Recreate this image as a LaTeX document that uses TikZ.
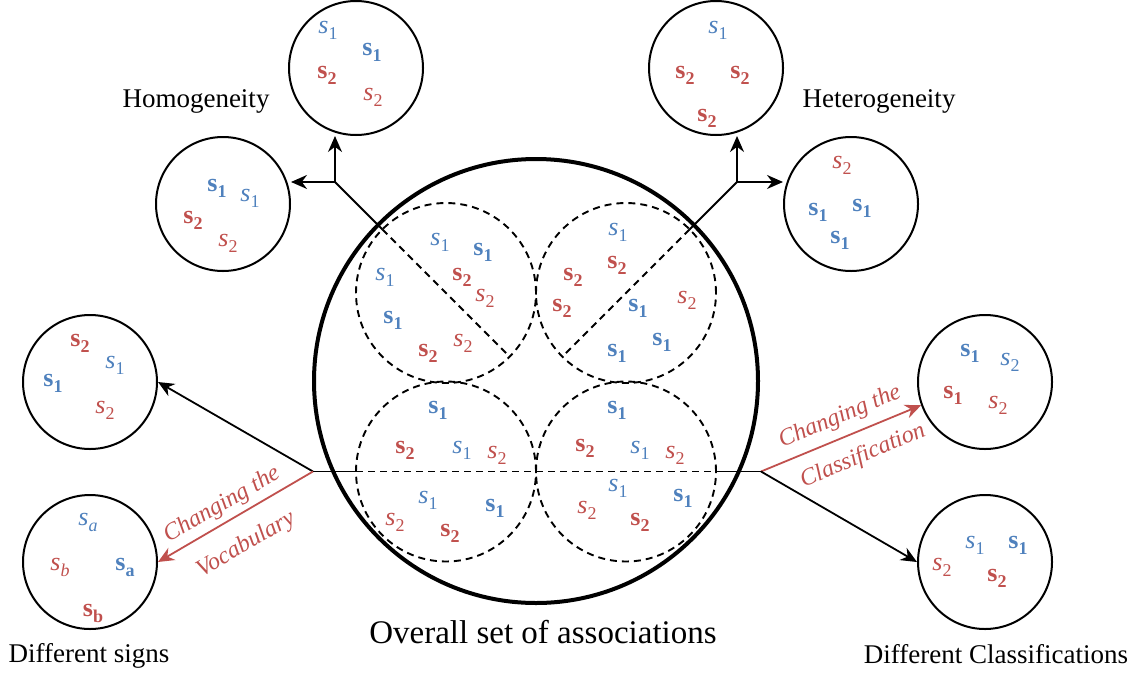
\documentclass[tikz,border=0pt]{standalone}
\usepackage{fontspec}
\setmainfont{Liberation Serif}
\usetikzlibrary{arrows.meta,calc}
\definecolor{sblue}{RGB}{79,129,189}
\definecolor{sred}{RGB}{192,80,77}
% italic sign s_x and bold sign s_x
\newcommand\sI[1]{\textit{s}\kern0.3pt\raisebox{-6pt}{\fontsize{18}{18}\selectfont #1}}
\newcommand\sB[1]{\textbf{s\raisebox{-6pt}{\fontsize{18}{18}\selectfont #1}}}

\begin{document}
\begin{tikzpicture}[x=1pt,y=-1pt,
  sym/.style={inner sep=0pt,font=\fontsize{26}{26}\selectfont},
  bl/.style={sym,text=sblue},
  rd/.style={sym,text=sred},
  grp/.style={circle,draw,line width=2pt,minimum size=134pt,inner sep=0pt},
  part/.style={draw,dashed,line width=1.9pt,dash pattern=on 7pt off 5pt},
  link/.style={line width=1.8pt},
  arr/.style={link,-{Stealth[length=16pt,width=14pt]}},
  caption/.style={anchor=base,inner sep=0pt,font=\fontsize{27}{27}\selectfont},
  note/.style={text=sred,inner sep=0pt,font=\itshape\fontsize{24}{24}\selectfont}]
\useasboundingbox (0,0) rectangle (1134,675);

% overall set and its four partitions
\coordinate (C) at (536,381);
\draw[line width=4pt] (C) circle[radius=222pt];
\coordinate (TL) at (446,293);
\coordinate (TR) at (626,293);
\coordinate (BL) at (446,471.5);
\coordinate (BR) at (626,471.5);
\foreach \c in {TL,TR,BL,BR} \draw[part] (\c) circle[radius=90pt];

% surrounding groups
\node[grp] (hom1) at (356,68) {};
\node[grp] (hom2) at (223,204) {};
\node[grp] (het1) at (716,68) {};
\node[grp] (het2) at (851,204) {};
\node[grp] (sg1) at (90,382) {};
\node[grp] (sg2) at (90,562) {};
\node[grp] (cl1) at (985,382) {};
\node[grp] (cl2) at (985,562) {};

% branch points
\coordinate (J1) at ($(TL)+(135:157pt)$);
\coordinate (J2) at ($(TR)+(45:157pt)$);
\coordinate (Jl) at (313,471.5);
\coordinate (Jr) at (761,471.5);

% splitting lines
\draw[link] (J1) -- ($(TL)+(135:90pt)$);
\draw[part] ($(TL)+(135:90pt)$) -- ($(TL)+(-45:90pt)$);
\draw[link] (J2) -- ($(TR)+(45:90pt)$);
\draw[part] ($(TR)+(45:90pt)$) -- ($(TR)+(225:90pt)$);
\draw[link] (Jl) -- ($(BL)+(180:90pt)$);
\draw[part] ($(BL)+(180:90pt)$) -- ($(BR)+(0:90pt)$);
\draw[link] ($(BR)+(0:90pt)$) -- (Jr);

% arrows
\draw[arr] (J1) -- (J1 |- hom1.south);
\draw[arr] (J1) -- (J1 -| hom2.east);
\draw[arr] (J2) -- (J2 |- het1.south);
\draw[arr] (J2) -- (J2 -| het2.west);
\draw[arr] (Jl) -- (sg1.east);
\draw[arr,sred] (Jl) -- (sg2.east);
\draw[arr,sred] (Jr) -- (cl1.200);
\draw[arr] (Jr) -- (cl2.west);

% arrow notes
\node[note,rotate=30] (v1) at (222,505) {Changing the};
\node[note,rotate=30] (v2) at (246,545) {Vocabulary};
\node[note,rotate=23] (c1) at (840,417) {Changing the};
\node[note,rotate=23] (c2) at (863,456) {Classification};

% captions
\node[caption] (tHom) at (196,107) {Homogeneity};
\node[caption] (tHet) at (879,107) {Heterogeneity};
\node[caption] (tSig) at (89,662) {Different signs};
\node[caption] (tCla) at (996,663) {Different Classifications};
\node[caption,font=\fontsize{33}{33}\selectfont] (tAll) at (543,643) {Overall set of associations};

% homogeneity groups
\node[bl] at (328,30) {\sI{1}};
\node[bl] at (372,52) {\sB{1}};
\node[rd] at (327,75) {\sB{2}};
\node[rd] at (373,97) {\sI{2}};
\node[bl] at (217,188) {\sB{1}};
\node[bl] at (250,198) {\sI{1}};
\node[rd] at (193,220) {\sB{2}};
\node[rd] at (228,243) {\sI{2}};

% heterogeneity groups
\node[bl] at (718,30) {\sI{1}};
\node[rd] at (685,75) {\sB{2}};
\node[rd] at (740,75) {\sB{2}};
\node[rd] at (707,118) {\sB{2}};
\node[rd] at (842,165) {\sI{2}};
\node[bl] at (818,212) {\sB{1}};
\node[bl] at (862,208) {\sB{1}};
\node[bl] at (840,240) {\sB{1}};

% top-left partition
\node[bl] at (440,242) {\sI{1}};
\node[bl] at (483,252) {\sB{1}};
\node[bl] at (385,277) {\sI{1}};
\node[rd] at (462,277) {\sB{2}};
\node[rd] at (485,298) {\sI{2}};
\node[bl] at (393,320) {\sB{1}};
\node[rd] at (463,343) {\sI{2}};
\node[rd] at (428,353) {\sB{2}};

% top-right partition
\node[bl] at (618,232) {\sI{1}};
\node[rd] at (617,265) {\sB{2}};
\node[rd] at (573,277) {\sB{2}};
\node[rd] at (687,300) {\sI{2}};
\node[rd] at (562,308) {\sB{2}};
\node[bl] at (638,308) {\sB{1}};
\node[bl] at (662,342) {\sB{1}};
\node[bl] at (617,353) {\sB{1}};

% bottom-left partition
\node[bl] at (438,410) {\sB{1}};
\node[rd] at (405,450) {\sB{2}};
\node[bl] at (462,450) {\sI{1}};
\node[rd] at (497,455) {\sI{2}};
\node[bl] at (428,500) {\sI{1}};
\node[bl] at (495,508) {\sB{1}};
\node[rd] at (395,522) {\sI{2}};
\node[rd] at (450,533) {\sB{2}};

% bottom-right partition
\node[bl] at (617,410) {\sB{1}};
\node[rd] at (585,448) {\sB{2}};
\node[bl] at (640,450) {\sI{1}};
\node[rd] at (675,455) {\sI{2}};
\node[bl] at (618,488) {\sI{1}};
\node[bl] at (683,498) {\sB{1}};
\node[rd] at (587,510) {\sI{2}};
\node[rd] at (640,522) {\sB{2}};

% different signs groups
\node[rd] at (80,343) {\sB{2}};
\node[bl] at (115,365) {\sI{1}};
\node[bl] at (53,383) {\sB{1}};
\node[rd] at (105,410) {\sI{2}};
\node[bl] at (88,522) {\sI{\textit{a}}};
\node[rd] at (60,567) {\sI{\textit{b}}};
\node[bl] at (125,567) {\sB{a}};
\node[rd] at (93,613) {\sB{b}};

% different classifications groups
\node[bl] at (970,353) {\sB{1}};
\node[bl] at (1010,362) {\sI{2}};
\node[rd] at (953,395) {\sB{1}};
\node[rd] at (998,405) {\sI{2}};
\node[bl] at (975,545) {\sI{1}};
\node[bl] at (1018,545) {\sB{1}};
\node[rd] at (942,567) {\sI{2}};
\node[rd] at (997,578) {\sB{2}};
\end{tikzpicture}
\end{document}
